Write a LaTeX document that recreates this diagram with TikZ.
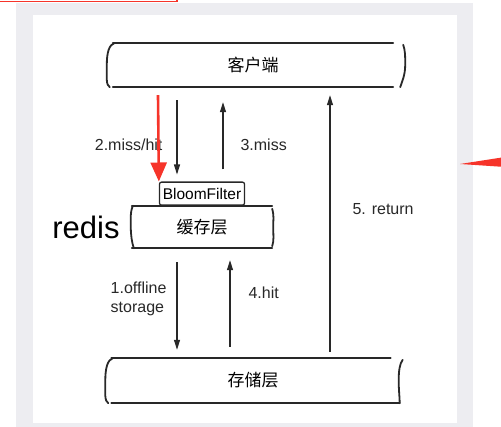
\documentclass[tikz,border=0pt]{standalone}
\usepackage{fontspec}
\setmainfont{Liberation Sans}
\newfontfamily\cjk{Noto Sans CJK SC}
\usetikzlibrary{positioning, arrows.meta}
\definecolor{framegray}{RGB}{237,237,241}
\definecolor{markred}{RGB}{246,52,42}
\definecolor{ink}{RGB}{40,40,40}

\begin{document}
\begin{tikzpicture}[
    x=1pt, y=-1pt,
    tier/.style={
        rectangle,
        minimum width=280pt,
        minimum height=44pt,
        inner sep=0pt,
        font=\fontsize{17}{17}\selectfont\cjk
    },
    filterbox/.style={
        rectangle,
        rounded corners=2pt,
        draw=ink,
        line width=1.3pt,
        fill=white,
        minimum width=85pt,
        minimum height=23pt,
        inner sep=0pt,
        font=\fontsize{15.5}{15.5}\selectfont
    },
    wall/.style={ink, line width=1.8pt, line cap=round},
    arrow/.style={ink, line width=1.1pt, -{Triangle[length=10pt,width=6pt]}},
    flowtext/.style={font=\fontsize{16}{19}\selectfont, inner sep=0pt, align=left, text=ink},
    redarrow/.style={markred, line width=2.6pt, -{Triangle[length=19pt,width=16pt]}}
]
\useasboundingbox (0,0) rectangle (501,427);

% Frame
\fill[framegray] (16,3) rectangle (473,427);
\fill[white] (33,15) rectangle (457,423);

% Nodes
\node (client) [tier] at (253,65) {客户端};
\node (cache) [tier, minimum width=140pt, minimum height=42pt] at (202,227) {缓存层};
\node (storage) [tier, minimum width=283pt, minimum height=45pt] at (253,380.5) {存储层};
\node (bloom) [filterbox, above=0pt of cache] {BloomFilter};
\node (redis) [left=12pt of cache, inner sep=0pt, font=\fontsize{31}{31}\selectfont] {redis};

% Walls
\draw[wall] (client.north west) -- (client.north east);
\draw[wall] (client.south west) -- (client.south east);
\draw[wall] ([xshift=2pt]client.north west) .. controls +(-6,2) and +(0,-12) .. ([xshift=-6pt]client.west)
    .. controls +(0,12) and +(-4,-2) .. ([xshift=-3pt]client.south west);
\draw[wall] ([xshift=10pt,yshift=-2pt]client.north east) .. controls +(2,6) and +(0,-10) .. ([xshift=12pt]client.east)
    .. controls +(0,10) and +(2,-6) .. ([xshift=7pt]client.south east);

\draw[wall] (cache.north west) -- (cache.north east);
\draw[wall] (cache.south west) -- (cache.south east);
\draw[wall] ([xshift=1pt]cache.north west) .. controls +(-3,8) and +(0,-8) .. ([xshift=-1pt]cache.west)
    .. controls +(0,8) and +(-2,-6) .. ([xshift=2pt]cache.south west);
\draw[wall] ([yshift=-3pt]cache.north east) .. controls +(2,8) and +(0,-8) .. ([xshift=1pt]cache.east)
    .. controls +(0,8) and +(2,-6) .. ([yshift=2pt]cache.south east);

\draw[wall] (storage.north west) -- ([xshift=-4pt]storage.north east);
\draw[wall] (storage.south west) -- ([xshift=5pt]storage.south east);
\draw[wall] ([xshift=2pt]storage.north west) .. controls +(-6,2) and +(0,-12) .. ([xshift=-6pt]storage.west)
    .. controls +(0,12) and +(-4,-2) .. ([xshift=-3pt]storage.south west);
\draw[wall] ([xshift=8pt,yshift=-2pt]storage.north east) .. controls +(-3,4) and +(0,-10) .. ([xshift=4pt]storage.east)
    .. controls +(0,10) and +(0,-6) .. ([xshift=5pt]storage.south east);

% Arrows
\draw[arrow, shorten <=13pt, shorten >=7pt] ([xshift=-25pt]bloom.north |- client.south) -- ([xshift=-25pt]bloom.north)
    node[flowtext, pos=0.61, left=14pt] {2.miss/hit};
\draw[arrow, shorten <=12pt, shorten >=15pt] ([xshift=21pt]bloom.north) -- ([xshift=21pt]bloom.north |- client.south)
    node[flowtext, pos=0.39, right=17pt] {3.miss};
\draw[arrow, shorten <=14pt, shorten >=8pt] ([xshift=-25pt]cache.south) -- ([xshift=-25pt]cache.south |- storage.north)
    node[flowtext, pos=0.46, left=10pt] {1.offline\\storage};
\draw[arrow, shorten <=11pt, shorten >=12pt] ([xshift=28pt]cache.south |- storage.north) -- ([xshift=28pt]cache.south)
    node[flowtext, pos=0.59, right=18pt] {4.hit};
\draw[arrow, shorten <=6pt, shorten >=8pt] ([xshift=77pt]storage.north) -- ([xshift=77pt]storage.north |- client.south)
    node[flowtext, pos=0.55, right=22pt] {5. return};

% Marks
\draw[redarrow] ([xshift=-95pt,yshift=-8pt]client.south) -- (bloom.north west);
\draw[markred, line width=1.5pt] (-5,1.5) -- (177,1.5) -- (177,-5);
\fill[markred] (460,164) -- (505,157) -- (505,167) -- cycle;

\end{tikzpicture}
\end{document}
